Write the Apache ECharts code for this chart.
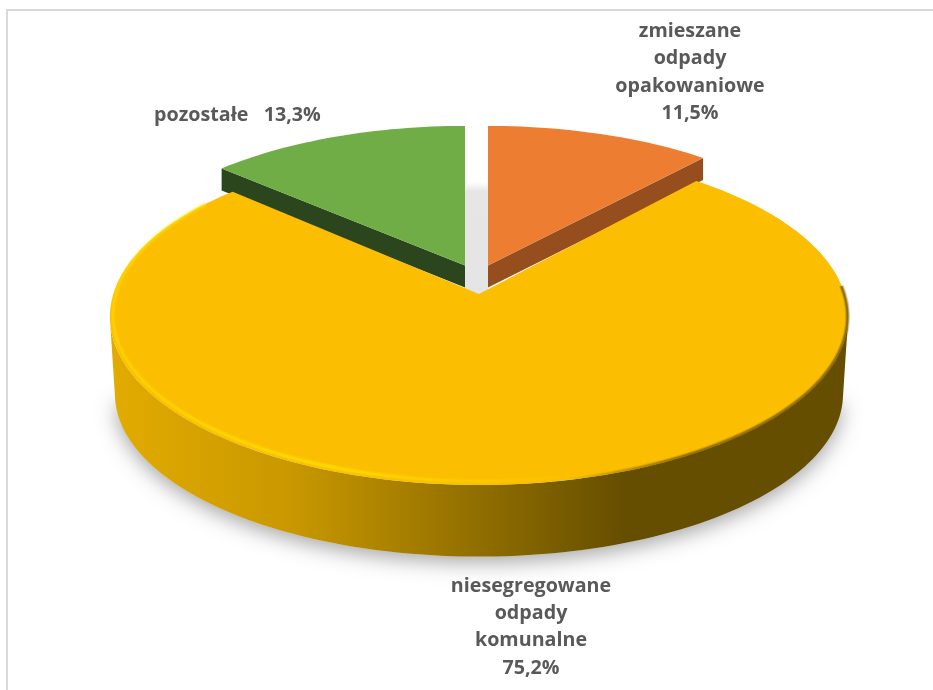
<!DOCTYPE html>
<html><head><meta charset="utf-8">
<style>html,body{margin:0;padding:0;background:#fff}#c{width:933px;height:690px}</style>
<script src="https://cdn.jsdelivr.net/npm/echarts@6/dist/echarts.min.js"></script>
</head><body><div id="c"></div>
<script>
const categories = ['zmieszane\nodpady\nopakowaniowe', 'niesegregowane\nodpady\nkomunalne', 'pozostałe'];
const values = [11.5, 75.2, 13.3];
const separators = ['\n', '\n', '   '];

const chart = echarts.init(document.getElementById('c'));
const total = values.reduce((a, b) => a + b, 0);
const labelStyle = [
  {x: 690, y: 17.5, align: 'center'},
  {x: 531, y: 572.2, align: 'center'},
  {x: 154, y: 101.5, align: 'left'}
];
const sliceStyle = [
  {top: '#ED7D31', wall: '#964E1F', apex: [488, 265.5], A: 355, B: 156.6, k: 0.122, depth: 22, z: 2},
  {top: '#FBBE00', apex: [479, 294], c: [479, 292], A: 365, B: 164.4, k: 0.148, z: 5},
  {top: '#70AD47', wall: '#2B461C', apex: [465, 265.5], A: 355, B: 156.6, k: 0.122, depth: 22, z: 2}
];
const rad = d => d * Math.PI / 180;
function rimPoint(cx, cy, A, B, k, deg) {
  const s = 1 / (1 + k * Math.cos(rad(deg)));
  return [cx + A * Math.sin(rad(deg)) * s, cy - B * Math.cos(rad(deg)) * s];
}
function arc(cx, cy, A, B, k, from, to) {
  const n = Math.max(2, Math.ceil(Math.abs(to - from) / 1.5));
  const pts = [];
  for (let i = 0; i <= n; i++) pts.push(rimPoint(cx, cy, A, B, k, from + (to - from) * i / n));
  return pts;
}
const hGrad = (x0, x1, stops) => new echarts.graphic.LinearGradient(x0, 0, x1, 0, stops, true);

function renderItem(params, api) {
  const i = params.dataIndex, v = api.value(0);
  let before = 0;
  for (let j = 0; j < i; j++) before += values[j];
  const a0 = before / total * 360, a1 = (before + v) / total * 360;
  const st = sliceStyle[i];
  const children = [];
  if (i === 1) {
    const [cx, cy] = st.c;
    const top = arc(cx, cy, st.A, st.B, st.k, a0, a1);
    const bottom = arc(cx, 370, 360, 159, st.k, 100, 260);
    const wallPts = arc(cx, cy, st.A, st.B, st.k, 100, 260).concat(bottom.slice().reverse());
    children.push({type: 'polygon', z2: 1, shape: {points: bottom},
      style: {fill: '#ddd', shadowBlur: 20, shadowColor: 'rgba(0,0,0,0.34)', shadowOffsetY: 6}});
    children.push({type: 'polygon', z2: 4, shape: {points: wallPts},
      style: {fill: hGrad(113, 625, [
        {offset: 0, color: '#E2AB00'}, {offset: 0.35, color: '#C99800'},
        {offset: 0.72, color: '#8F6D00'}, {offset: 1, color: '#664E00'}])}});
    children.push({type: 'polygon', z2: 0, shape: {points: [[465, 182], [488, 182], [488, 296], [465, 296]]},
      style: {fill: new echarts.graphic.LinearGradient(0, 182, 0, 296, [
        {offset: 0, color: '#ffffff'}, {offset: 0.08, color: '#E6E6E6'}, {offset: 1, color: '#E4E4E4'}], true)}});
    children.push({type: 'polygon', z2: st.z, shape: {points: [st.apex].concat(top)}, style: {fill: st.top}});
    // soft bevel on the rim: bright on the lit side, dark on the shaded side
    const bevel = (w, inset, stops, from, to, op) => ({type: 'polyline', z2: st.z + 1,
      shape: {points: arc(cx, cy - inset * 0.6, st.A - inset, st.B - inset * 0.6, st.k, from, to)},
      style: {fill: null, stroke: hGrad(110, 850, stops), lineWidth: w, opacity: op}});
    const light = [
      {offset: 0, color: 'rgba(255,222,0,0.7)'}, {offset: 0.12, color: 'rgba(255,224,0,0.85)'},
      {offset: 0.3, color: 'rgba(255,230,0,1)'},
      {offset: 0.5, color: 'rgba(255,222,0,0.4)'}, {offset: 0.64, color: 'rgba(255,222,0,0)'}, {offset: 1, color: 'rgba(255,222,0,0)'}];
    const dark = [
      {offset: 0, color: 'rgba(110,84,0,0)'}, {offset: 0.62, color: 'rgba(110,84,0,0)'},
      {offset: 0.78, color: 'rgba(110,84,0,0.9)'}, {offset: 1, color: 'rgba(110,84,0,1)'}];
    [[6, 0.16], [4, 0.26], [2.2, 0.5]].forEach(([w, o]) => children.push(bevel(w, 3, light, 150, 305, o)));
    [[5, 0.2], [3.5, 0.3], [2, 0.55]].forEach(([w, o]) => children.push(bevel(w, 0.5, dark, 88, 190, o)));
  } else {
    const [ax, ay] = st.apex;
    const from = i === 0 ? a0 : a0 - 360, to = i === 0 ? a1 : a1 - 360;
    const top = arc(ax, ay, st.A, st.B, st.k, from, to);
    const corner = rimPoint(ax, ay, st.A, st.B, st.k, i === 0 ? a1 : a0 - 360);
    children.push({type: 'polygon', z2: st.z,
      shape: {points: [[ax, ay], corner, [corner[0], corner[1] + st.depth], [ax, ay + st.depth]]},
      style: {fill: st.wall}});
    children.push({type: 'polygon', z2: st.z + 1, shape: {points: [[ax, ay]].concat(top)}, style: {fill: st.top}});
  }
  const ls = labelStyle[i];
  children.push({type: 'text', z2: 20, style: {
    text: categories[i] + separators[i] + v.toFixed(1).replace('.', ',') + '%',
    x: ls.x, y: ls.y, align: ls.align, verticalAlign: 'top',
    font: 'bold 19.7px "Open Sans"', lineHeight: 27.4, fill: '#595959'}});
  return {type: 'group', children};
}

chart.setOption({
  animation: false,
  backgroundColor: '#fff',
  tooltip: {show: false},
  graphic: [{type: 'rect', z: -1, shape: {x: 7, y: 10, width: 1000, height: 800},
    style: {fill: '#fff', stroke: '#D9D9D9', lineWidth: 2}}],
  series: [{
    type: 'custom', coordinateSystem: 'none', silent: true,
    renderItem,
    data: values.map(v => [v])
  }]
});
</script></body></html>
